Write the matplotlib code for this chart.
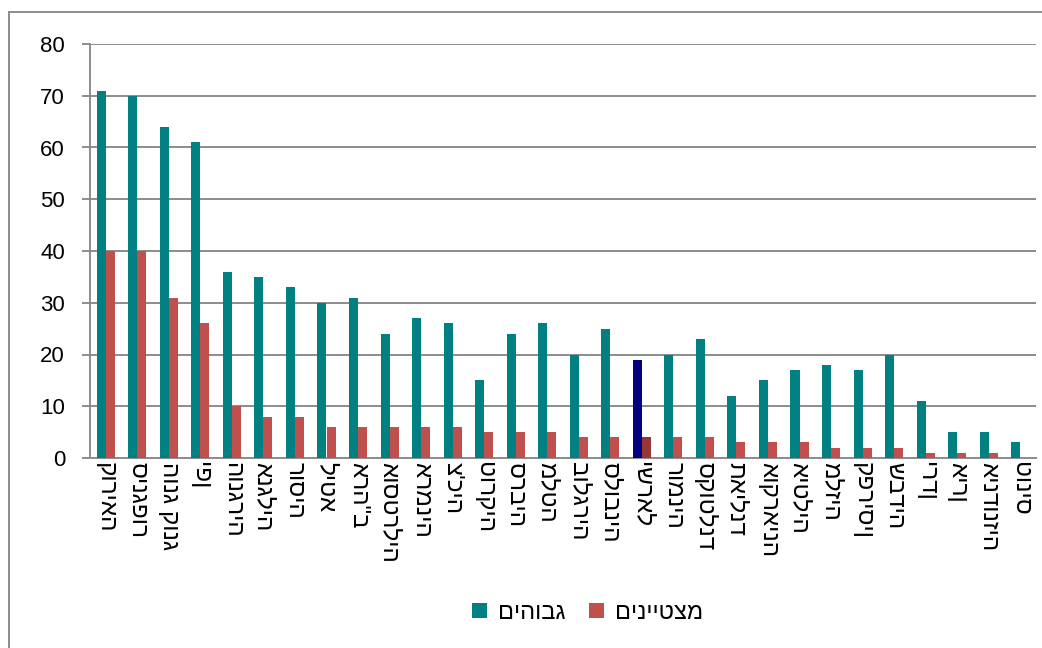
import matplotlib
matplotlib.use("Agg")
import matplotlib.pyplot as plt
from matplotlib.patches import Patch
from matplotlib.lines import Line2D
import numpy as np

# Share of students reaching each benchmark, by country
countries = [
    "קוריאה", "סינגפור", "הונג קונג", "יפן", "הונגריה", "אנגליה", "רוסיה",
    "ליטא", "ארה\"ב", "אוסטרליה", "ארמניה", "צ'כיה", "טורקיה", "סרביה",
    "מלטה", "בולגריה", "סלובניה", "ישראל", "רומניה", "סקוטלנד", "תאילנד",
    "אוקראינה", "איטליה", "מלזיה", "קפריסין", "שבדיה", "ירדן", "אירן",
    "אינדונזיה", "טוניס",
]
high = [71, 70, 64, 61, 36, 35, 33, 30, 31, 24, 27, 26, 15, 24, 26, 20,
        25, 19, 20, 23, 12, 15, 17, 18, 17, 20, 11, 5, 5, 3]
advanced = [40, 40, 31, 26, 10, 8, 8, 6, 6, 6, 6, 6, 5, 5, 5, 4,
            4, 4, 4, 4, 3, 3, 3, 2, 2, 2, 1, 1, 1, 0]
series_names = ["גבוהים", "מצטיינים"]
highlight = "ישראל"
y_ticks = [0, 10, 20, 30, 40, 50, 60, 70, 80]

TEAL = "#008080"
RED = "#C0504D"
NAVY = "#000080"
DARK_RED = "#953735"
GRID = "#8C8C8C"
FONT = ["Liberation Sans", "DejaVu Sans"]

plt.rcParams["font.family"] = FONT


def visual(s):
    # matplotlib lays glyphs out left to right with no bidi reordering,
    # so horizontal Hebrew is reversed before drawing
    return s[::-1]


W, H = 1042, 648
fig = plt.figure(figsize=(W / 100, H / 100), dpi=100)
ax = fig.add_axes([90 / W, 1 - 458 / H, (1036 - 90) / W, (458 - 44) / H])

x = np.arange(len(countries))
bw = 1 / 3.5
high_colors = [NAVY if c == highlight else TEAL for c in countries]
adv_colors = [DARK_RED if c == highlight else RED for c in countries]
ax.bar(x - bw / 2, high, width=bw, color=high_colors, zorder=3)
ax.bar(x + bw / 2, advanced, width=bw, color=adv_colors, zorder=3)

ax.set_xlim(-0.5, len(countries) - 0.5)
ax.set_ylim(0, 80)
ax.set_yticks(y_ticks)
ax.yaxis.grid(True, color=GRID, linewidth=1.4, zorder=0)
ax.set_axisbelow(True)

for side in ("top", "right"):
    ax.spines[side].set_visible(False)
for side in ("left", "bottom"):
    ax.spines[side].set_color(GRID)
    ax.spines[side].set_linewidth(1.4)

ax.tick_params(axis="y", length=6, width=1.4, color=GRID, pad=12,
               labelsize=16, labelcolor="black")
ax.tick_params(axis="x", length=0, pad=3)
ax.set_xticks(x)
# Vertical labels read top to bottom, so logical order works as is
ax.set_xticklabels(countries, rotation=270, fontsize=17.5, ha="center",
                   va="top", family=FONT)

handles = [Patch(facecolor=TEAL, edgecolor="none"),
           Patch(facecolor=RED, edgecolor="none")]
fig.legend(handles, [visual(n) for n in series_names], loc="center",
           bbox_to_anchor=(588 / W, 1 - 613 / H), ncol=2, frameon=False,
           fontsize=17, handlelength=0.6, handleheight=0.6,
           handletextpad=0.5, columnspacing=1.0)

# Chart area frame
fig.add_artist(Line2D([9 / W, 9 / W], [0, 1 - 12 / H], transform=fig.transFigure,
                      color=GRID, linewidth=1.4))
fig.add_artist(Line2D([9 / W, 1], [1 - 12 / H, 1 - 12 / H],
                      transform=fig.transFigure, color=GRID, linewidth=1.4))

fig.savefig("out.png", dpi=100, facecolor="white")
